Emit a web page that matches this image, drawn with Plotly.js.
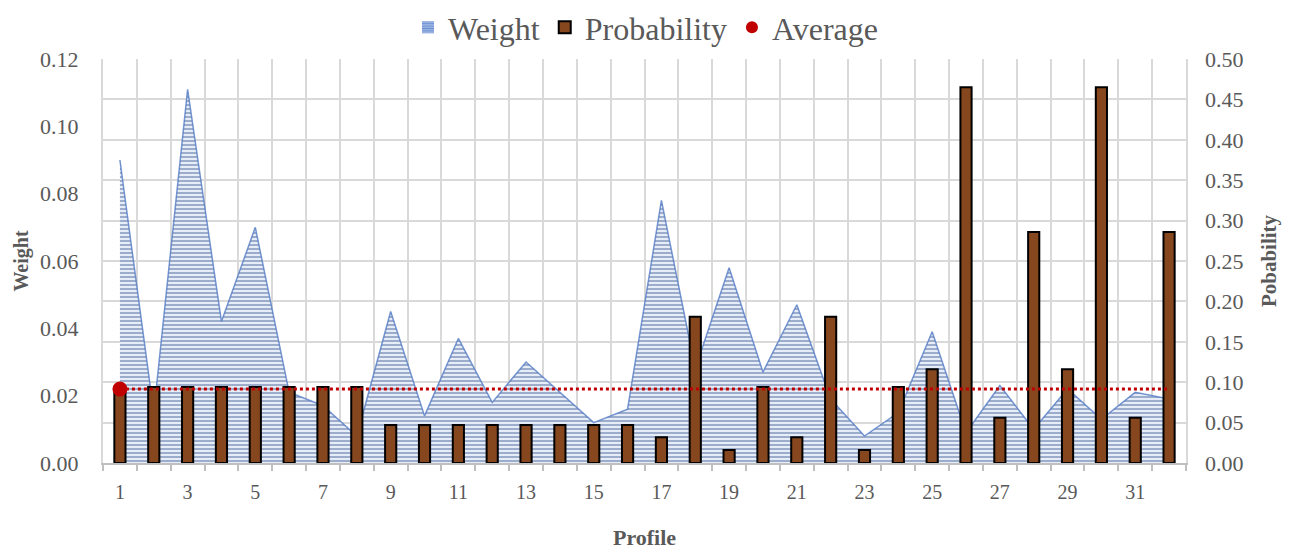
<!DOCTYPE html>
<html>
<head>
<meta charset="utf-8">
<script src="https://cdn.plot.ly/plotly-3.0.1.min.js"></script>
<style>html,body{margin:0;padding:0;background:#fff;}#chart{width:1291px;height:550px;}</style>
</head>
<body>
<div id="chart"></div>
<script>
// ---- data ----
const profiles = [1,2,3,4,5,6,7,8,9,10,11,12,13,14,15,16,17,18,19,20,21,22,23,24,25,26,27,28,29,30,31,32];
const weight = [0.090,0.015,0.111,0.042,0.070,0.021,0.017,0.008,0.045,0.014,0.037,0.018,0.030,0.021,0.012,0.016,
                0.078,0.028,0.058,0.027,0.047,0.019,0.008,0.015,0.039,0.009,0.023,0.010,0.022,0.013,0.021,0.019];
const probability = [0.094,0.094,0.094,0.094,0.094,0.094,0.094,0.094,0.047,0.047,0.047,0.047,0.047,0.047,0.047,0.047,
                     0.032,0.181,0.016,0.094,0.032,0.181,0.016,0.094,0.116,0.465,0.056,0.286,0.116,0.465,0.056,0.286];
const averageValue = 0.0915;           // on the probability axis
const average = profiles.map(() => averageValue);
const xTickVals = [1,3,5,7,9,11,13,15,17,19,21,23,25,27,29,31];
const xTickText = ['1','3','5','7','9','11','13','15','17','19','21','23','25','27','29','31'];
const yTickVals = [0,0.02,0.04,0.06,0.08,0.10,0.12];
const yTickText = ['0.00','0.02','0.04','0.06','0.08','0.10','0.12'];
const y2TickVals = [0,0.05,0.10,0.15,0.20,0.25,0.30,0.35,0.40,0.45,0.50];
const y2TickText = ['0.00','0.05','0.10','0.15','0.20','0.25','0.30','0.35','0.40','0.45','0.50'];

const FONT = 'Liberation Serif, Times New Roman, serif';
const TXT = '#595959';
const GRID = '#d9d9d9';

const traces = [
  {
    name: 'Weight', type: 'scatter', mode: 'lines', x: profiles, y: weight,
    xaxis: 'x', yaxis: 'y', showlegend: false,
    line: {color: 'rgba(84,124,196,0.8)', width: 1.5},
    fill: 'tozeroy', fillcolor: '#e4ebf7',
    fillpattern: {shape: '-', fgcolor: 'rgba(138,156,192,0.9)', bgcolor: '#e6edf8', size: 4, solidity: 0.45},
    hoverinfo: 'skip'
  },
  // legend-only entry for the area (square swatch, no marks drawn)
  {
    name: 'Weight', type: 'bar', x: [null], y: [null], xaxis: 'x', yaxis: 'y2',
    marker: {color: '#8eaadb', line: {color: '#6f93d3', width: 0},
             pattern: {shape: '-', fgcolor: '#6a8fd0', bgcolor: '#9db6e3', size: 3, solidity: 0.4}}
  },
  {
    name: 'Probability', type: 'bar', x: profiles, y: probability,
    xaxis: 'x', yaxis: 'y2', width: 0.33,
    marker: {color: '#87471e', line: {color: '#000000', width: 2}}
  },
  {
    name: 'Average', type: 'scatter', mode: 'lines', x: profiles, y: average,
    xaxis: 'x', yaxis: 'y2', showlegend: false,
    line: {color: '#c00000', width: 3, dash: 'dot'}
  },
  {
    name: 'Average', type: 'scatter', mode: 'markers', x: profiles.slice(0,1), y: average.slice(0,1),
    xaxis: 'x', yaxis: 'y2',
    marker: {color: '#c00000', size: 15}
  }
];

const layout = {
  width: 1291, height: 550,
  margin: {l: 103, r: 105, t: 59, b: 87},
  paper_bgcolor: '#ffffff', plot_bgcolor: '#ffffff',
  font: {family: FONT, color: TXT, size: 20},
  showlegend: true, barmode: 'overlay',
  legend: {orientation: 'h', x: 0.5, xanchor: 'center', xref: 'container',
           y: 1.0, yanchor: 'top', yref: 'container',
           font: {family: FONT, size: 32, color: TXT}, itemsizing: 'constant', traceorder: 'normal'},
  bargap: 0,
  xaxis: {
    range: [0.5, 32.5], tickmode: 'array', tickvals: xTickVals, ticktext: xTickText,
    showgrid: false, zeroline: false, ticks: '', ticklabelstandoff: 10,
    showline: true, linecolor: '#bfbfbf', linewidth: 2,
    tickfont: {family: FONT, size: 20, color: TXT},
    minor: {tick0: 0.5, dtick: 1, showgrid: true, gridcolor: GRID, gridwidth: 2,
            ticks: 'outside', ticklen: 6, tickcolor: '#bfbfbf', tickwidth: 2},
    title: {text: '<b>Profile</b>', font: {family: FONT, size: 22, color: TXT}, standoff: 30}
  },
  yaxis: {
    range: [0, 0.12], tickmode: 'array', tickvals: yTickVals, ticktext: yTickText,
    showgrid: false, zeroline: false, ticks: '', ticklabelstandoff: 18,
    showline: true, mirror: true, linecolor: GRID, linewidth: 2,
    tickfont: {family: FONT, size: 22, color: TXT},
    title: {text: '<b>Weight</b>', font: {family: FONT, size: 20, color: TXT}, standoff: 6}
  },
  yaxis2: {
    range: [0, 0.5], overlaying: 'y', side: 'right', tickmode: 'array', tickvals: y2TickVals, ticktext: y2TickText,
    showgrid: true, gridcolor: GRID, gridwidth: 2, zeroline: false, ticks: '', ticklabelstandoff: 18,
    tickfont: {family: FONT, size: 22, color: TXT},
    title: {text: '<b>Pobability</b>', font: {family: FONT, size: 21, color: TXT}, standoff: 18}
  }
};

Plotly.newPlot('chart', traces, layout, {displayModeBar: false, staticPlot: true});
</script>
</body>
</html>
